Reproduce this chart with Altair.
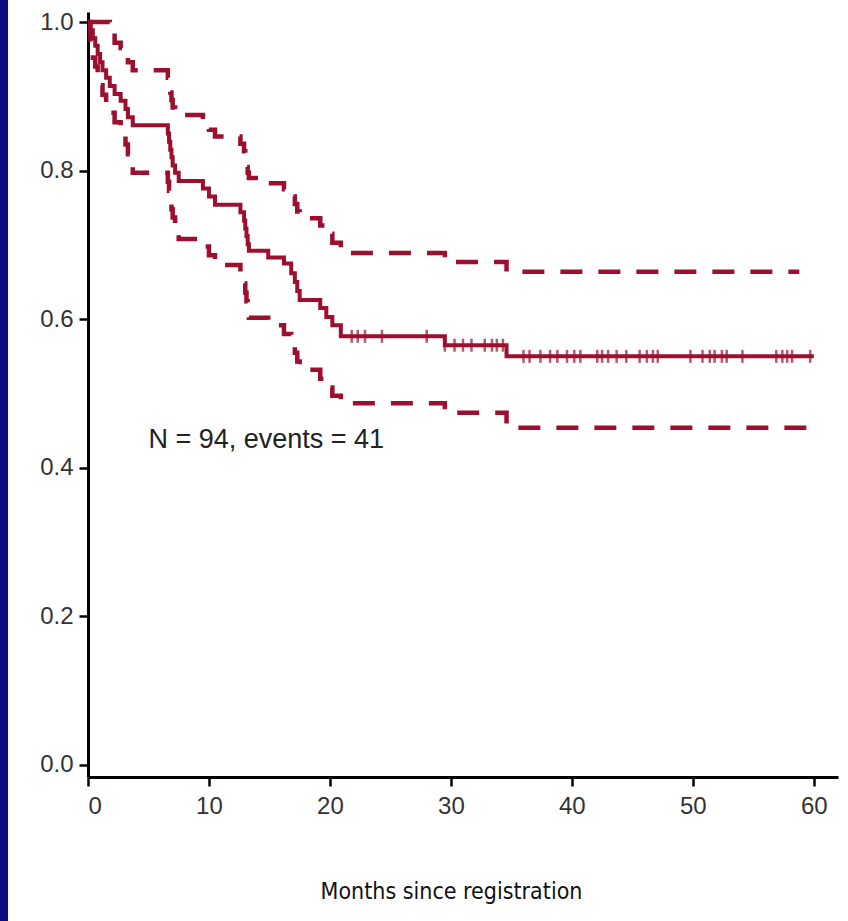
import altair as alt
import numpy as np
import pandas as pd

# Kaplan-Meier estimate: time of each step (months) and survival after it
km_time = [0, 0.2, 0.4, 0.6, 0.8, 1.0, 1.2, 1.5, 1.8, 2.2,
           2.7, 3.1, 3.3, 3.7, 6.6, 6.7, 6.8, 6.9, 7.0, 7.2,
           7.5, 9.5, 10.0, 10.5, 12.6, 12.9, 13.0, 13.1, 13.2, 13.3,
           14.9, 16.2, 16.8, 17.1, 17.3, 17.5, 19.2, 19.7, 20.2, 20.9,
           29.5, 34.6]
km_surv = [1.0, 0.989, 0.978, 0.968, 0.957, 0.946, 0.935, 0.925, 0.914, 0.903,
           0.894, 0.883, 0.872, 0.861, 0.850, 0.839, 0.828, 0.818, 0.807, 0.797,
           0.786, 0.776, 0.765, 0.754, 0.744, 0.733, 0.722, 0.712, 0.701, 0.692,
           0.683, 0.675, 0.662, 0.650, 0.638, 0.626, 0.615, 0.603, 0.592, 0.577,
           0.565, 0.550]
# 95% confidence band at the same step times
ci_upper = [1.0, 1.0, 1.0, 1.0, 1.0, 1.0, 1.0, 1.0, 0.990, 0.972,
            0.965, 0.958, 0.946, 0.935, 0.925, 0.915, 0.905, 0.895, 0.885, 0.877,
            0.875, 0.866, 0.855, 0.846, 0.836, 0.826, 0.815, 0.805, 0.797, 0.790,
            0.783, 0.775, 0.765, 0.755, 0.745, 0.736, 0.726, 0.715, 0.703, 0.689,
            0.677, 0.664]
ci_lower = [1.0, 0.969, 0.952, 0.940, 0.928, 0.915, 0.902, 0.890, 0.878, 0.865,
            0.848, 0.835, 0.822, 0.797, 0.785, 0.773, 0.760, 0.748, 0.737, 0.724,
            0.708, 0.698, 0.686, 0.673, 0.660, 0.648, 0.636, 0.624, 0.612, 0.602,
            0.592, 0.580, 0.567, 0.555, 0.543, 0.532, 0.520, 0.508, 0.497, 0.487,
            0.474, 0.454]
# last follow-up time drawn for each curve
curve_end = {"estimate": 60.0, "upper": 58.8, "lower": 59.8}
# censored observations (months)
censor_time = [21.8, 22.3, 22.9, 24.3, 28.0, 29.5, 30.3, 31.0, 31.7, 32.8,
               33.4, 33.8, 34.3, 36.0, 36.5, 37.4, 38.2, 38.8, 39.6, 40.2,
               40.7, 42.1, 42.5, 43.0, 43.7, 44.5, 45.6, 46.2, 46.7, 47.1,
               49.8, 50.8, 51.4, 51.8, 52.4, 52.8, 54.1, 56.9, 57.4, 57.8,
               58.2, 59.7]
x_ticks = [0, 10, 20, 30, 40, 50, 60]
y_ticks = [0.0, 0.2, 0.4, 0.6, 0.8, 1.0]
note = "N = 94, events = 41"

RED = "#9c0f2e"


def step_frame(times, values, end, name):
    t = list(times) + [end]
    v = list(values) + [values[-1]]
    return pd.DataFrame({"t": t, "s": v, "curve": name})


est_df = step_frame(km_time, km_surv, curve_end["estimate"], "estimate")
band_df = pd.concat([
    step_frame(km_time, ci_upper, curve_end["upper"], "upper"),
    step_frame(km_time, ci_lower, curve_end["lower"], "lower"),
])

# survival level at each censoring time, read from the step function
idx = np.searchsorted(np.array(km_time), np.array(censor_time), side="right") - 1
cens_df = pd.DataFrame({"t": censor_time, "s": np.array(km_surv)[idx]})

note_df = pd.DataFrame({"t": [5.0], "s": [0.437], "label": [note]})

x_scale = alt.Scale(domain=[0, 62], nice=False, zero=False)
y_scale = alt.Scale(domain=[-0.0162, 1.0135], nice=False, zero=False)

x_enc = alt.X("t:Q", scale=x_scale,
              axis=alt.Axis(values=x_ticks, format="d", title="Months since registration",
                            titleFont="DejaVu Sans Condensed, Liberation Sans Narrow, sans-serif",
                            titleFontSize=23, titleFontWeight="normal", titleColor="#111",
                            titleX=363, titlePadding=62, labelPadding=8))
y_enc = alt.Y("s:Q", scale=y_scale,
              axis=alt.Axis(values=y_ticks, format=".1f", title=None, labelPadding=6))

band = alt.Chart(band_df).mark_line(
    interpolate="step-after", color=RED, strokeWidth=4.5, strokeDash=[22, 16]
).encode(x=x_enc, y=y_enc, detail="curve:N")

estimate = alt.Chart(est_df).mark_line(
    interpolate="step-after", color=RED, strokeWidth=4
).encode(x="t:Q", y="s:Q")

censors = alt.Chart(cens_df).mark_tick(
    orient="vertical", color=RED, size=13, thickness=2.5
).encode(x="t:Q", y="s:Q")

label = alt.Chart(note_df).mark_text(
    align="left", baseline="middle", fontSize=27, font="Liberation Sans, Arial, sans-serif",
    color="#222"
).encode(x="t:Q", y="s:Q", text="label:N")

# slide frame strip along the left edge
strip = alt.Chart(pd.DataFrame({"k": [0]})).mark_rect(color="#0d0d86").encode(
    x=alt.value(-88), x2=alt.value(-80), y=alt.value(-12), y2=alt.value(909)
)

chart = alt.layer(strip, band, estimate, censors, label).properties(
    width=750, height=765,
    autosize=alt.AutoSizeParams(type="none"),
    padding={"left": 88, "top": 12, "right": 10, "bottom": 144},
    background="white",
).configure_view(stroke=None).configure_axis(
    grid=False, domainColor="black", domainWidth=3, tickColor="black",
    tickWidth=2.5, tickSize=9, labelFont="Liberation Sans, Arial, sans-serif",
    labelFontSize=24, labelColor="#333",
)

chart.save("out.html", embed_options={"renderer": "svg", "actions": False})
